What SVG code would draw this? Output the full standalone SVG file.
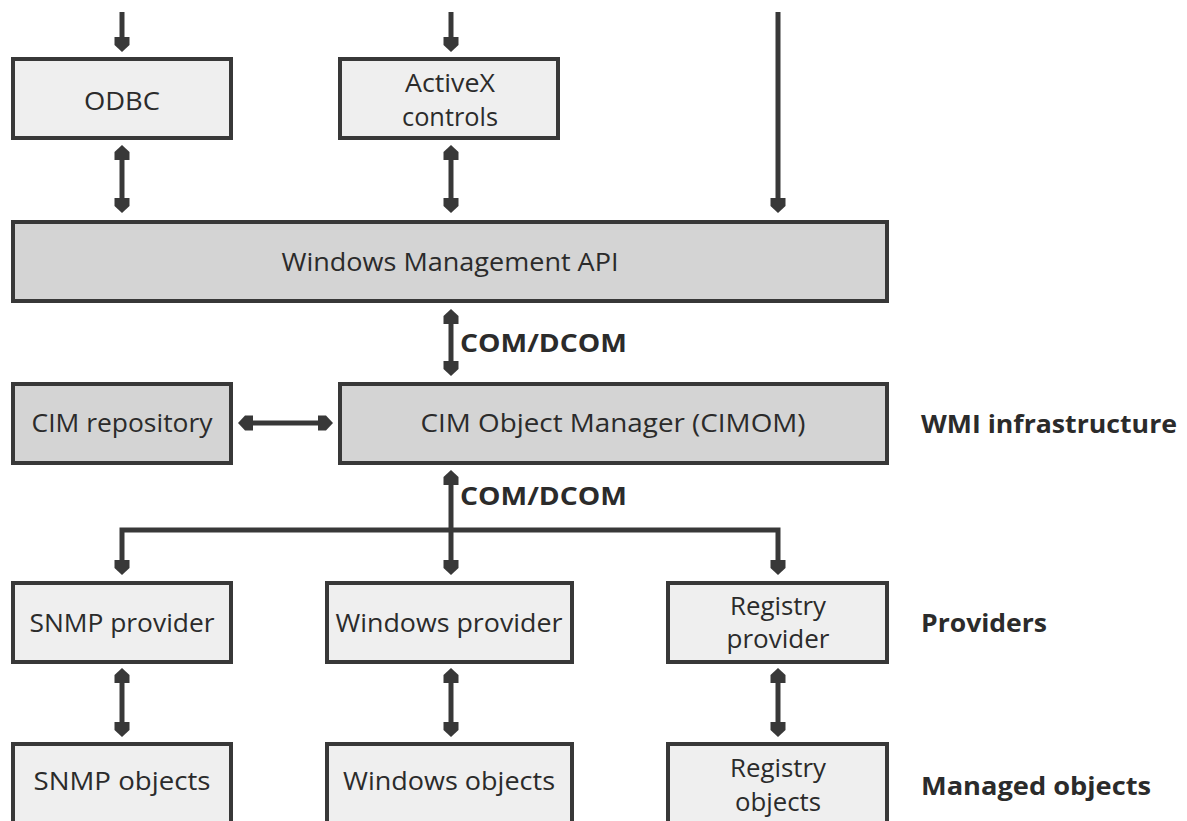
<svg xmlns="http://www.w3.org/2000/svg" width="1187" height="821" viewBox="0 0 1187 821">
<style>
.box{stroke:#383838;stroke-width:4}
.light{fill:#efefef}
.dark{fill:#d4d4d4}
.t{font-family:"Open Sans","Noto Sans","Liberation Sans",sans-serif;font-size:25px;fill:#2b2b2b;text-anchor:middle}
.b{font-family:"Open Sans","Noto Sans","Liberation Sans",sans-serif;font-size:25px;font-weight:bold;fill:#2b2b2b}
.c{fill:none;stroke:#383838;stroke-width:5}
</style>
<defs>
<marker id="ah" viewBox="-11 -9 17 18" refX="0" refY="0" markerWidth="17" markerHeight="18" markerUnits="userSpaceOnUse" orient="auto-start-reverse">
<path d="M5,0 L-2,-7.5 L-10,-7.5 L-10,7.5 L-2,7.5 Z" fill="#383838"/>
</marker>
</defs>
<rect width="1187" height="821" fill="#ffffff"/>
<g id="connectors">
<path class="c" d="M122,12 V47" marker-end="url(#ah)"/>
<path class="c" d="M451,12 V47" marker-end="url(#ah)"/>
<path class="c" d="M778,12 V208" marker-end="url(#ah)"/>
<path class="c" d="M122,150 V208" marker-start="url(#ah)" marker-end="url(#ah)"/>
<path class="c" d="M451,150 V208" marker-start="url(#ah)" marker-end="url(#ah)"/>
<path class="c" d="M451,314 V371" marker-start="url(#ah)" marker-end="url(#ah)"/>
<path class="c" d="M243,423 H328" marker-start="url(#ah)" marker-end="url(#ah)"/>
<path class="c" d="M451,475 V570" marker-start="url(#ah)" marker-end="url(#ah)"/>
<path class="c" d="M122,570 V530 H778 V570" marker-start="url(#ah)" marker-end="url(#ah)"/>
<path class="c" d="M122,673 V732" marker-start="url(#ah)" marker-end="url(#ah)"/>
<path class="c" d="M451,673 V732" marker-start="url(#ah)" marker-end="url(#ah)"/>
<path class="c" d="M778,673 V732" marker-start="url(#ah)" marker-end="url(#ah)"/>
<text class="b" x="460" y="352" textLength="167" lengthAdjust="spacingAndGlyphs">COM/DCOM</text>
<text class="b" x="460" y="505" textLength="167" lengthAdjust="spacingAndGlyphs">COM/DCOM</text>
</g>
<g id="odbc">
<rect class="box light" x="13" y="59" width="218" height="79"/>
<text class="t" x="122" y="110" textLength="76" lengthAdjust="spacingAndGlyphs">ODBC</text>
</g>
<g id="activex">
<rect class="box light" x="340" y="59" width="218" height="79"/>
<text class="t" x="450" y="92" textLength="90" lengthAdjust="spacingAndGlyphs">ActiveX</text>
<text class="t" x="450" y="126" textLength="96" lengthAdjust="spacingAndGlyphs">controls</text>
</g>
<g id="wmapi">
<rect class="box dark" x="13" y="222" width="874" height="79"/>
<text class="t" x="450" y="271" textLength="337" lengthAdjust="spacingAndGlyphs">Windows Management API</text>
</g>
<g id="cimrepo">
<rect class="box dark" x="13" y="384" width="218" height="79"/>
<text class="t" x="122" y="432" textLength="181" lengthAdjust="spacingAndGlyphs">CIM repository</text>
</g>
<g id="cimom">
<rect class="box dark" x="340" y="384" width="547" height="79"/>
<text class="t" x="613" y="432" textLength="385" lengthAdjust="spacingAndGlyphs">CIM Object Manager (CIMOM)</text>
</g>
<g id="snmpprov">
<rect class="box light" x="13" y="583" width="218" height="79"/>
<text class="t" x="122" y="632" textLength="185" lengthAdjust="spacingAndGlyphs">SNMP provider</text>
</g>
<g id="winprov">
<rect class="box light" x="327" y="583" width="245" height="79"/>
<text class="t" x="449" y="632" textLength="227" lengthAdjust="spacingAndGlyphs">Windows provider</text>
</g>
<g id="regprov">
<rect class="box light" x="668" y="583" width="219" height="79"/>
<text class="t" x="778" y="615" textLength="96" lengthAdjust="spacingAndGlyphs">Registry</text>
<text class="t" x="778" y="648" textLength="103" lengthAdjust="spacingAndGlyphs">provider</text>
</g>
<g id="snmpobj">
<rect class="box light" x="13" y="744" width="218" height="90"/>
<text class="t" x="122" y="790" textLength="177" lengthAdjust="spacingAndGlyphs">SNMP objects</text>
</g>
<g id="winobj">
<rect class="box light" x="327" y="744" width="245" height="90"/>
<text class="t" x="449" y="790" textLength="212" lengthAdjust="spacingAndGlyphs">Windows objects</text>
</g>
<g id="regobj">
<rect class="box light" x="668" y="744" width="219" height="90"/>
<text class="t" x="778" y="777" textLength="96" lengthAdjust="spacingAndGlyphs">Registry</text>
<text class="t" x="778" y="811" textLength="86" lengthAdjust="spacingAndGlyphs">objects</text>
</g>
<g id="labels">
<text class="b" x="921" y="433" textLength="256" lengthAdjust="spacingAndGlyphs">WMI infrastructure</text>
<text class="b" x="921" y="632" textLength="126" lengthAdjust="spacingAndGlyphs">Providers</text>
<text class="b" x="921" y="795" textLength="230" lengthAdjust="spacingAndGlyphs">Managed objects</text>
</g>
</svg>
